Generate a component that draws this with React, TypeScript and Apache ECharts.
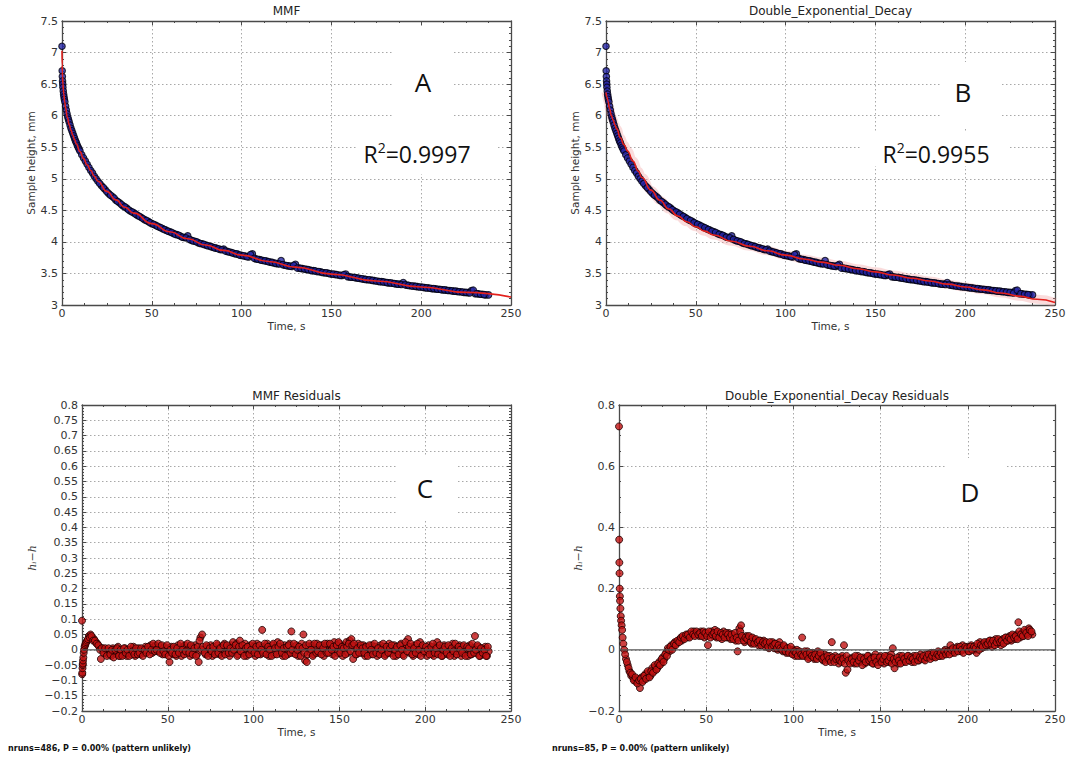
import React, { useEffect, useRef } from "react";
import * as echarts from "echarts";

// ---------------- data ----------------
// measured sample height (mm) vs time (s)
const H_T = [
  0, 0.1, 0.2, 0.3, 0.4, 0.5, 0.7, 0.9, 1.1, 1.3,
  1.6, 2, 2.4, 2.8, 3.2, 3.6, 4, 4.5, 5, 5.5,
  6, 6.5, 7, 7.5, 8, 8.5, 9, 9.5, 10, 11,
  12, 13, 14, 15, 16, 17, 18, 19,
  20, 22, 24, 26, 28, 30, 32, 34, 36, 38,
  40, 42, 44, 46, 48, 50, 52, 54, 56, 58,
  60, 62, 64, 66, 68, 70, 72, 74, 76, 78,
  80, 82, 84, 86, 88, 90, 92, 94, 96, 98,
  100, 102, 104, 106, 108, 110, 112, 114, 116, 118,
  120, 122, 124, 126, 128, 130, 132, 134, 136, 138,
  140, 142, 144, 146, 148, 150, 152, 154, 156, 158,
  160, 162, 164, 166, 168, 170, 172, 174, 176, 178,
  180, 182, 184, 186, 188, 190, 192, 194, 196, 198,
  200, 202, 204, 206, 208, 210, 212, 214, 216, 218,
  220, 222, 224, 226, 228, 230, 232, 234, 236, 237.5,
];
const H_V = [
  7.1, 6.71, 6.62, 6.55, 6.5, 6.45, 6.39, 6.34, 6.3, 6.26,
  6.22, 6.15, 6.09, 6.03, 5.98, 5.94, 5.9, 5.85, 5.8, 5.76,
  5.72, 5.68, 5.64, 5.6, 5.57, 5.53, 5.5, 5.47, 5.44, 5.38,
  5.33, 5.28, 5.23, 5.18, 5.13, 5.09, 5.04, 5.0,
  4.96, 4.89, 4.83, 4.765, 4.72, 4.66, 4.62, 4.57, 4.535, 4.49,
  4.46, 4.42, 4.39, 4.35, 4.325, 4.29, 4.265, 4.235, 4.21, 4.185,
  4.16, 4.135, 4.115, 4.09, 4.07, 4.095, 4.025, 4.01, 3.985, 3.97,
  3.95, 3.935, 3.915, 3.9, 3.88, 3.885, 3.85, 3.835, 3.815, 3.805,
  3.785, 3.775, 3.76, 3.81, 3.73, 3.72, 3.705, 3.695, 3.68, 3.665,
  3.655, 3.705, 3.63, 3.62, 3.61, 3.645, 3.585, 3.575, 3.565, 3.555,
  3.545, 3.53, 3.525, 3.51, 3.505, 3.49, 3.485, 3.475, 3.47, 3.49,
  3.445, 3.44, 3.43, 3.42, 3.41, 3.4, 3.395, 3.385, 3.375, 3.37,
  3.36, 3.35, 3.345, 3.335, 3.33, 3.355, 3.315, 3.305, 3.3, 3.29,
  3.285, 3.275, 3.27, 3.26, 3.255, 3.25, 3.24, 3.235, 3.23, 3.22,
  3.215, 3.21, 3.2, 3.195, 3.23, 3.18, 3.175, 3.17, 3.16, 3.16,
];
// intermediate (odd-second) height samples
const H2_T = [
  21, 23, 25, 27, 29, 31, 33, 35, 37, 39,
  41, 43, 45, 47, 49, 51, 53, 55, 57, 59,
  61, 63, 65, 67, 69, 71, 73, 75, 77, 79,
  81, 83, 85, 87, 89, 91, 93, 95, 97, 99,
  101, 103, 105, 107, 109, 111, 113, 115, 117, 119,
  121, 123, 125, 127, 129, 131, 133, 135, 137, 139,
  141, 143, 145, 147, 149, 151, 153, 155, 157, 159,
  161, 163, 165, 167, 169, 171, 173, 175, 177, 179,
  181, 183, 185, 187, 189, 191, 193, 195, 197, 199,
  201, 203, 205, 207, 209, 211, 213, 215, 217, 219,
  221, 223, 225, 227, 229, 231, 233, 235,
];
const H2_V = [
  4.925, 4.86, 4.795, 4.74, 4.695, 4.64, 4.595, 4.555, 4.51, 4.475,
  4.44, 4.405, 4.37, 4.34, 4.305, 4.28, 4.25, 4.225, 4.195, 4.17,
  4.15, 4.12, 4.105, 4.075, 4.065, 4.04, 4.015, 4.0, 3.975, 3.96,
  3.94, 3.925, 3.905, 3.89, 3.875, 3.855, 3.84, 3.825, 3.81, 3.79,
  3.78, 3.765, 3.8, 3.74, 3.725, 3.71, 3.7, 3.685, 3.675, 3.66,
  3.65, 3.64, 3.625, 3.615, 3.63, 3.585, 3.58, 3.57, 3.56, 3.545,
  3.54, 3.53, 3.515, 3.51, 3.495, 3.49, 3.48, 3.47, 3.48, 3.45,
  3.44, 3.435, 3.425, 3.415, 3.405, 3.4, 3.39, 3.38, 3.37, 3.365,
  3.355, 3.35, 3.34, 3.33, 3.325, 3.32, 3.31, 3.3, 3.295, 3.285,
  3.28, 3.27, 3.265, 3.26, 3.25, 3.245, 3.24, 3.23, 3.225, 3.22,
  3.21, 3.205, 3.2, 3.19, 3.235, 3.18, 3.17, 3.165,
];

// MMF fitted curve
const MMF_T = [0, 0.1, 0.2, 0.3, 0.5, 0.75, 1, 1.5, 2, 3, 4, 5, 6, 7, 8, 10, 12, 14, 16, 18, 20, 25, 30, 35, 40, 50, 60, 70, 80, 90, 100, 115, 130, 150, 175, 200, 225, 250];
const MMF_H = [7.03, 6.8, 6.7, 6.62, 6.5, 6.41, 6.34, 6.22, 6.12, 5.97, 5.86, 5.77, 5.69, 5.62, 5.55, 5.43, 5.32, 5.22, 5.13, 5.04, 4.96, 4.8, 4.665, 4.55, 4.455, 4.29, 4.16, 4.05, 3.95, 3.865, 3.79, 3.69, 3.6, 3.49, 3.38, 3.285, 3.2, 3.125];

// Double exponential decay fitted curve
const DED_T = [0, 0.5, 1, 2, 3, 4, 5, 6, 8, 10, 12, 15, 18, 20, 25, 30, 35, 40, 45, 50, 55, 60, 70, 80, 90, 100, 110, 120, 130, 140, 150, 160, 170, 180, 190, 200, 210, 220, 230, 240, 250];
const DED_H = [6.37, 6.3, 6.24, 6.11, 6.0, 5.93, 5.85, 5.79, 5.65, 5.54, 5.44, 5.28, 5.12, 5.02, 4.82, 4.66, 4.52, 4.41, 4.32, 4.24, 4.17, 4.11, 4.01, 3.93, 3.86, 3.79, 3.73, 3.68, 3.63, 3.575, 3.525, 3.475, 3.425, 3.38, 3.33, 3.285, 3.24, 3.19, 3.14, 3.09, 3.04];

// residual sample times (whole seconds)
const RES_T = [
  0, 0.1, 0.2, 0.3, 0.4, 0.5, 0.6, 0.8, 1, 1.2, 1.5, 1.8, 2.1, 2.5,
  3, 4, 5, 6, 7, 8, 9, 10, 11, 12,
  13, 14, 15, 16, 17, 18, 19, 20, 21, 22,
  23, 24, 25, 26, 27, 28, 29, 30, 31, 32,
  33, 34, 35, 36, 37, 38, 39, 40, 41, 42,
  43, 44, 45, 46, 47, 48, 49, 50, 51, 52,
  53, 54, 55, 56, 57, 58, 59, 60, 61, 62,
  63, 64, 65, 66, 67, 68, 69, 70, 71, 72,
  73, 74, 75, 76, 77, 78, 79, 80, 81, 82,
  83, 84, 85, 86, 87, 88, 89, 90, 91, 92,
  93, 94, 95, 96, 97, 98, 99, 100, 101, 102,
  103, 104, 105, 106, 107, 108, 109, 110, 111, 112,
  113, 114, 115, 116, 117, 118, 119, 120, 121, 122,
  123, 124, 125, 126, 127, 128, 129, 130, 131, 132,
  133, 134, 135, 136, 137, 138, 139, 140, 141, 142,
  143, 144, 145, 146, 147, 148, 149, 150, 151, 152,
  153, 154, 155, 156, 157, 158, 159, 160, 161, 162,
  163, 164, 165, 166, 167, 168, 169, 170, 171, 172,
  173, 174, 175, 176, 177, 178, 179, 180, 181, 182,
  183, 184, 185, 186, 187, 188, 189, 190, 191, 192,
  193, 194, 195, 196, 197, 198, 199, 200, 201, 202,
  203, 204, 205, 206, 207, 208, 209, 210, 211, 212,
  213, 214, 215, 216, 217, 218, 219, 220, 221, 222,
  223, 224, 225, 226, 227, 228, 229, 230, 231, 232,
  233, 234, 235, 236, 237,
];
// MMF residuals
const RES_MMF = [
  0.095, -0.08, -0.075, -0.06, -0.05, -0.045, -0.035, -0.025, -0.01, 0, 0.01, 0.015, 0.02, 0.025,
  0.03, 0.045, 0.05, 0.04, 0.035, 0.025, 0.02, 0.01, -0.03, 0.005,
  -0.01, 0, -0.015, -0.005, -0.02, 0.005, -0.01, -0.015, 0.01, -0.02,
  -0.005, -0.015, 0.005, -0.02, -0.01, 0, -0.015, 0.01, -0.02, -0.005,
  0.005, -0.015, 0, -0.01, 0.01, -0.005, 0.005, 0.015, -0.01, 0.01,
  0.015, -0.005, 0.01, 0, -0.015, 0.01, -0.01, 0.005, -0.04, 0.01,
  -0.015, 0.005, -0.02, 0.015, -0.005, -0.02, 0.01, 0.015, -0.01, 0.005,
  -0.02, 0.01, -0.005, 0.015, -0.015, -0.04, 0.04, 0.05, 0, -0.015,
  0.01, -0.01, 0.015, -0.02, 0.005, -0.01, 0.015, -0.015, 0.01, -0.005,
  0.02, -0.01, 0.005, -0.02, 0.015, 0.025, -0.005, 0.02, -0.015, 0.03,
  0.01, -0.01, 0.02, -0.02, 0.005, 0.015, -0.01, 0.01, -0.02, 0.02,
  0, -0.015, 0.065, 0.01, -0.01, 0.02, -0.02, 0.005, 0.015, -0.015,
  0.01, 0.025, -0.01, 0.005, -0.02, 0.015, 0, -0.015, 0.02, 0.06,
  -0.01, 0.01, 0.015, -0.02, 0.005, 0.02, 0.05, -0.035, -0.04, 0.01,
  -0.01, 0.015, -0.015, 0.005, 0.02, -0.01, 0, 0.015, -0.02, 0.01,
  0.02, -0.005, 0.015, -0.015, 0.025, 0.005, -0.01, 0.02, 0, -0.02,
  0.015, 0.025, -0.01, 0.03, 0.035, -0.03, 0.01, -0.015, 0.02, 0.005,
  -0.01, 0.015, -0.02, 0.01, 0, -0.015, 0.015, -0.005, 0.01, -0.02,
  0.005, 0.015, -0.01, 0.01, -0.015, 0.005, 0.02, -0.01, 0, 0.015,
  -0.02, 0.01, -0.005, 0.02, -0.015, 0.005, 0.015, 0.035, -0.01, 0.01,
  -0.02, 0.015, 0, -0.015, 0.025, 0.01, -0.01, 0.005, -0.02, 0.015,
  0, -0.015, -0.02, 0.01, 0.025, -0.01, 0.005, -0.02, 0.015, 0,
  -0.015, 0.01, -0.01, 0.02, -0.02, 0.005, -0.005, 0.015, -0.02, 0.01,
  -0.01, 0.005, -0.02, 0.015, -0.015, 0.005, 0.045, -0.01, 0.01, -0.02,
  0.005, -0.015, 0.01, -0.02, -0.005,
];
// Double exponential decay residuals
const RES_DED = [
  0.73, 0.36, 0.285, 0.25, 0.2, 0.175, 0.16, 0.135, 0.11, 0.095, 0.08, 0.065, 0.04, 0.02,
  0, -0.03, -0.05, -0.07, -0.085, -0.09, -0.1, -0.105, -0.095, -0.125,
  -0.09, -0.1, -0.08, -0.09, -0.075, -0.085, -0.06, -0.07, -0.055, -0.06,
  -0.04, -0.045, -0.025, -0.03, -0.01, 0.005, -0.005, 0.015, 0.01, 0.025,
  0.02, 0.03, 0.035, 0.03, 0.04, 0.045, 0.04, 0.05, 0.045, 0.055,
  0.06, 0.05, 0.055, 0.045, 0.06, 0.05, 0.04, 0.055, 0.015, 0.05,
  0.06, 0.045, 0.065, 0.04, 0.055, 0.05, 0.035, 0.06, 0.045, 0.04,
  0.055, 0.035, 0.05, 0.045, 0.03, -0.005, 0.07, 0.08, 0.04, 0.025,
  0.045, 0.03, 0.04, 0.02, 0.035, 0.025, 0.03, 0.015, 0.03, 0.02,
  0.03, 0.01, 0.02, 0.005, 0.02, 0.025, 0.005, 0.02, 0, 0.025,
  0.01, -0.005, 0.01, -0.01, 0.005, 0, -0.01, 0, -0.02, 0,
  -0.01, -0.02, 0.04, -0.01, -0.02, -0.005, -0.025, -0.015, -0.01, -0.03,
  -0.015, -0.005, -0.025, -0.02, -0.035, -0.015, -0.025, -0.035, -0.02, 0.025,
  -0.03, -0.02, -0.035, -0.045, -0.025, -0.02, 0.015, -0.075, -0.065, -0.03,
  -0.04, -0.025, -0.045, -0.03, -0.02, -0.04, -0.035, -0.025, -0.045, -0.03,
  -0.02, -0.04, -0.025, -0.045, -0.015, -0.035, -0.04, -0.02, -0.035, -0.045,
  -0.025, -0.02, -0.04, -0.015, 0.005, -0.06, -0.035, -0.045, -0.02, -0.03,
  -0.04, -0.025, -0.035, -0.02, -0.03, -0.04, -0.02, -0.03, -0.025, -0.035,
  -0.015, -0.025, -0.03, -0.015, -0.025, -0.02, -0.01, -0.025, -0.015, -0.02,
  -0.005, -0.02, -0.01, -0.015, 0, -0.01, -0.005, 0.015, -0.01, 0,
  -0.005, 0.01, 0, -0.005, 0.015, 0.005, 0, 0.01, -0.005, 0.015,
  0.005, 0, -0.01, 0.015, 0.025, 0.005, 0.02, 0.01, 0.025, 0.015,
  0.03, 0.01, 0.025, 0.035, 0.02, 0.03, 0.015, 0.035, 0.025, 0.04,
  0.03, 0.045, 0.03, 0.045, 0.035, 0.05, 0.09, 0.04, 0.055, 0.045,
  0.06, 0.05, 0.07, 0.055, 0.05,
];
// residual sample times (half seconds)
const RES2_T = [
  3.5, 4.5, 5.5, 6.5, 7.5, 8.5, 9.5, 10.5, 11.5, 12.5,
  13.5, 14.5, 15.5, 16.5, 17.5, 18.5, 19.5, 20.5, 21.5, 22.5,
  23.5, 24.5, 25.5, 26.5, 27.5, 28.5, 29.5, 30.5, 31.5, 32.5,
  33.5, 34.5, 35.5, 36.5, 37.5, 38.5, 39.5, 40.5, 41.5, 42.5,
  43.5, 44.5, 45.5, 46.5, 47.5, 48.5, 49.5, 50.5, 51.5, 52.5,
  53.5, 54.5, 55.5, 56.5, 57.5, 58.5, 59.5, 60.5, 61.5, 62.5,
  63.5, 64.5, 65.5, 66.5, 67.5, 68.5, 69.5, 70.5, 71.5, 72.5,
  73.5, 74.5, 75.5, 76.5, 77.5, 78.5, 79.5, 80.5, 81.5, 82.5,
  83.5, 84.5, 85.5, 86.5, 87.5, 88.5, 89.5, 90.5, 91.5, 92.5,
  93.5, 94.5, 95.5, 96.5, 97.5, 98.5, 99.5, 100.5, 101.5, 102.5,
  103.5, 104.5, 105.5, 106.5, 107.5, 108.5, 109.5, 110.5, 111.5, 112.5,
  113.5, 114.5, 115.5, 116.5, 117.5, 118.5, 119.5, 120.5, 121.5, 122.5,
  123.5, 124.5, 125.5, 126.5, 127.5, 128.5, 129.5, 130.5, 131.5, 132.5,
  133.5, 134.5, 135.5, 136.5, 137.5, 138.5, 139.5, 140.5, 141.5, 142.5,
  143.5, 144.5, 145.5, 146.5, 147.5, 148.5, 149.5, 150.5, 151.5, 152.5,
  153.5, 154.5, 155.5, 156.5, 157.5, 158.5, 159.5, 160.5, 161.5, 162.5,
  163.5, 164.5, 165.5, 166.5, 167.5, 168.5, 169.5, 170.5, 171.5, 172.5,
  173.5, 174.5, 175.5, 176.5, 177.5, 178.5, 179.5, 180.5, 181.5, 182.5,
  183.5, 184.5, 185.5, 186.5, 187.5, 188.5, 189.5, 190.5, 191.5, 192.5,
  193.5, 194.5, 195.5, 196.5, 197.5, 198.5, 199.5, 200.5, 201.5, 202.5,
  203.5, 204.5, 205.5, 206.5, 207.5, 208.5, 209.5, 210.5, 211.5, 212.5,
  213.5, 214.5, 215.5, 216.5, 217.5, 218.5, 219.5, 220.5, 221.5, 222.5,
  223.5, 224.5, 225.5, 226.5, 227.5, 228.5, 229.5, 230.5, 231.5, 232.5,
  233.5, 234.5, 235.5, 236.5,
];
const RES2_MMF = [
  0.035, 0.04, 0.045, 0.03, 0.03, 0.02, 0.015, 0, 0.005, -0.01,
  0.005, -0.02, 0.005, -0.015, 0, -0.025, 0, 0.005, -0.02, 0,
  -0.02, 0.005, -0.01, 0, -0.02, 0.01, -0.005, -0.015, 0.005, -0.015,
  -0.01, 0.005, -0.02, 0, -0.01, 0.01, -0.015, 0, 0.02, -0.005,
  0, 0.02, -0.01, 0.015, -0.005, -0.015, 0.015, -0.02, 0, -0.01,
  0.01, -0.015, 0.005, -0.01, 0.02, 0, -0.015, -0.005, 0.02, -0.01,
  0.015, -0.015, 0.005, -0.02, 0.01, 0.03, 0, 0.01, -0.01, 0.015,
  -0.02, 0.005, -0.005, 0.01, -0.015, 0.02, -0.01, 0.005, -0.02, 0.015,
  -0.015, 0.015, -0.01, 0.005, -0.01, 0, 0.015, -0.02, 0.01, -0.005,
  0.015, -0.02, 0.005, 0.01, -0.015, 0, 0.02, -0.01, 0.01, -0.015,
  0.015, 0, -0.01, 0.02, -0.015, 0.01, 0, -0.02, 0.02, 0.005,
  -0.015, 0.01, 0.02, -0.01, 0.005, -0.02, 0.01, 0.015, -0.01, 0,
  0.02, -0.015, 0, 0.01, -0.02, 0.005, -0.01, 0.015, -0.015, 0.02,
  0, -0.02, 0.02, -0.01, -0.005, 0.015, -0.015, 0.005, 0.02, -0.01,
  -0.01, 0.02, 0, 0.01, -0.02, 0.015, 0.025, -0.01, 0.01, 0.005,
  -0.015, 0.01, 0.02, -0.005, 0.015, 0.02, -0.015, 0.005, -0.01, 0.015,
  0.005, -0.01, 0.01, -0.02, 0.015, 0, -0.015, 0.02, -0.01, 0.005,
  -0.015, 0, 0.02, -0.02, 0.01, -0.01, 0.005, 0.015, -0.02, 0,
  0.01, -0.015, 0.015, 0, -0.02, 0.025, -0.005, 0.01, 0.02, -0.015,
  0.005, -0.01, 0.02, 0, -0.02, 0.015, -0.005, 0.01, 0, -0.015,
  0.01, 0.02, -0.01, 0.005, -0.015, 0.015, -0.02, 0, 0.01, -0.01,
  0.015, -0.02, 0.005, -0.005, 0.02, -0.015, 0.01, 0, -0.01, 0.015,
  -0.02, 0.01, 0.005, -0.015, 0.02, -0.01, 0, 0.015, -0.02, 0.005,
  -0.01, 0, -0.02, 0.01,
];
const RES2_DED = [
  -0.015, -0.04, -0.06, -0.075, -0.08, -0.1, -0.09, -0.11, -0.1, -0.095,
  -0.105, -0.085, -0.095, -0.07, -0.09, -0.07, -0.075, -0.05, -0.065, -0.045,
  -0.05, -0.03, -0.04, -0.015, -0.02, 0, 0.01, 0, 0.02, 0.015,
  0.03, 0.025, 0.04, 0.045, 0.035, 0.05, 0.05, 0.04, 0.06, 0.05,
  0.045, 0.06, 0.05, 0.055, 0.045, 0.06, 0.055, 0.045, 0.06, 0.04,
  0.05, 0.055, 0.045, 0.06, 0.04, 0.055, 0.05, 0.04, 0.055, 0.05,
  0.04, 0.05, 0.035, 0.055, 0.04, 0.03, 0.06, 0.045, 0.03, 0.04,
  0.035, 0.045, 0.025, 0.04, 0.02, 0.035, 0.025, 0.03, 0.015, 0.025,
  0.02, 0.025, 0.01, 0.025, 0.01, 0.015, 0.02, 0.005, 0.015, 0.005,
  0, 0.015, -0.005, 0.005, -0.01, 0.01, -0.015, -0.005, -0.01, -0.02,
  -0.005, -0.015, -0.02, -0.005, -0.015, -0.03, -0.01, -0.02, -0.025, -0.015,
  -0.03, -0.02, -0.01, -0.03, -0.025, -0.04, -0.02, -0.03, -0.04, -0.025,
  -0.04, -0.03, -0.025, -0.035, -0.04, -0.03, -0.045, -0.02, -0.035, -0.045,
  -0.03, -0.04, -0.02, -0.045, -0.035, -0.025, -0.05, -0.03, -0.04, -0.02,
  -0.035, -0.03, -0.045, -0.025, -0.04, -0.05, -0.025, -0.04, -0.03, -0.02,
  -0.04, -0.035, -0.025, -0.045, -0.03, -0.04, -0.025, -0.035, -0.045, -0.02,
  -0.03, -0.04, -0.02, -0.035, -0.025, -0.03, -0.04, -0.02, -0.035, -0.025,
  -0.03, -0.02, -0.035, -0.025, -0.015, -0.03, -0.02, -0.01, -0.025, -0.015,
  -0.02, -0.01, -0.02, -0.005, -0.015, -0.005, -0.015, 0, 0.005, -0.01,
  0.005, -0.005, 0.01, 0, -0.01, 0.01, 0.005, -0.005, 0.01, 0,
  0.01, 0.005, 0.02, 0, 0.015, 0.01, 0.025, 0.015, 0.02, 0.03,
  0.02, 0.03, 0.015, 0.025, 0.035, 0.025, 0.03, 0.02, 0.04, 0.03,
  0.04, 0.035, 0.05, 0.04, 0.045, 0.035, 0.06, 0.05, 0.045, 0.065,
  0.055, 0.045, 0.065, 0.06,
];
const ZERO_C_END = 238;
const ZERO_D_END = 250;

// ---------------- texts ----------------
const TITLES = ["MMF", "Double_Exponential_Decay", "MMF Residuals", "Double_Exponential_Decay Residuals"];
const X_NAME = "Time, s";
const Y_NAME_H = "Sample height, mm";
const Y_NAME_R = "h\u1D62\u2212h";
const LETTERS = ["A", "B", "C", "D"];
const R2_VALUES = ["=0.9997", "=0.9955"];
const FOOTERS = ["nruns=486, P = 0.00% (pattern unlikely)", "nruns=85, P = 0.00% (pattern unlikely)"];

// ---------------- layout / style ----------------
const GRIDS = [
  { left: 62, top: 21, width: 449, height: 284 },
  { left: 606, top: 21, width: 449, height: 284 },
  { left: 82, top: 405, width: 429, height: 306 },
  { left: 619, top: 405, width: 436, height: 306 },
];
const FONT = "'DejaVu Sans', sans-serif";
const ANNOT_FONT = "'Open Sans', 'Liberation Sans', sans-serif";
const AX = "#4a4a4a";
const TXT = "#333";

const fmt = (v: number) => String(Math.round(v * 1000) / 1000).replace("-", "\u2212");

function xAxesFor(gi: number) {
  const base: any = {
    type: "value", gridIndex: gi, min: 0, max: 250, interval: 50,
    axisLine: { show: true, onZero: false, lineStyle: { color: AX, width: 1.3 } },
    axisTick: { show: true, inside: true, length: 4, lineStyle: { color: AX, width: 1 } },
    minorTick: { show: true, splitNumber: 4, length: 2, lineStyle: { color: AX, width: 1 } },
  };
  return [
    {
      ...base, position: "bottom",
      name: X_NAME, nameLocation: "middle", nameGap: 15,
      nameTextStyle: { fontFamily: FONT, fontSize: 10.5, color: TXT },
      axisLabel: { fontFamily: FONT, fontSize: 11, color: TXT, margin: 3, formatter: fmt },
      splitLine: { show: true, lineStyle: { type: [1.5, 2.5], color: "#a8a8a8", width: 1 } },
    },
    { ...base, position: "top", axisLabel: { show: false }, splitLine: { show: false } },
  ];
}

function yAxesFor(gi: number, min: number, max: number, interval: number, minorSplit: number, name: string, nameGap: number, italic: boolean) {
  const base: any = {
    type: "value", gridIndex: gi, min, max, interval,
    axisLine: { show: true, onZero: false, lineStyle: { color: AX, width: 1.3 } },
    axisTick: { show: true, inside: true, length: 4, lineStyle: { color: AX, width: 1 } },
    minorTick: { show: true, splitNumber: minorSplit, length: 2, lineStyle: { color: AX, width: 1 } },
  };
  return [
    {
      ...base, position: "left",
      name, nameLocation: "middle", nameGap,
      nameTextStyle: italic
        ? { fontFamily: "'DejaVu Serif', serif", fontStyle: "italic", fontSize: 11, color: "#444" }
        : { fontFamily: FONT, fontSize: 10.5, color: TXT },
      axisLabel: { fontFamily: FONT, fontSize: 11, color: TXT, margin: 4, formatter: fmt },
      splitLine: { show: true, lineStyle: { type: [1.5, 2.5], color: "#a8a8a8", width: 1 } },
    },
    { ...base, position: "right", axisLabel: { show: false }, splitLine: { show: false } },
  ];
}

const pairs = (xs: number[], ys: number[]) => xs.map((x, i) => [x, ys[i]]);

const BLUE_PT = { color: "#2626a6", borderColor: "#000010", borderWidth: 1.1 };
const RED_PT = { color: "#c01212", borderColor: "#1e0000", borderWidth: 1 };

function buildOption(): any {
  const heights = [...pairs(H_T, H_V), ...pairs(H2_T, H2_V)];
  const resMMF = [...pairs(RES_T, RES_MMF), ...pairs(RES2_T, RES2_MMF)];
  const resDED = [...pairs(RES_T, RES_DED), ...pairs(RES2_T, RES2_DED)];
  const xAxis = [...xAxesFor(0), ...xAxesFor(1), ...xAxesFor(2), ...xAxesFor(3)];
  const yAxis = [
    ...yAxesFor(0, 3, 7.5, 0.5, 5, Y_NAME_H, 23, false),
    ...yAxesFor(1, 3, 7.5, 0.5, 5, Y_NAME_H, 23, false),
    ...yAxesFor(2, -0.2, 0.8, 0.05, 5, Y_NAME_R, 44, true),
    ...yAxesFor(3, -0.2, 0.8, 0.2, 4, Y_NAME_R, 35, true),
  ];

  const series: any[] = [
    // A
    { type: "scatter", xAxisIndex: 0, yAxisIndex: 0, data: heights, symbolSize: 6.5, itemStyle: BLUE_PT, z: 3 },
    { type: "line", xAxisIndex: 0, yAxisIndex: 0, data: pairs(MMF_T, MMF_H), showSymbol: false, symbol: "none", smooth: true, smoothMonotone: "x", lineStyle: { color: "#e3201c", width: 1.6 }, z: 5 },
    // B
    { type: "line", xAxisIndex: 2, yAxisIndex: 2, data: pairs(DED_T, DED_H), showSymbol: false, symbol: "none", smooth: true, smoothMonotone: "x", lineStyle: { color: "rgba(240,140,140,0.3)", width: 9 }, z: 2 },
    { type: "scatter", xAxisIndex: 2, yAxisIndex: 2, data: heights, symbolSize: 6.5, itemStyle: BLUE_PT, z: 3 },
    { type: "line", xAxisIndex: 2, yAxisIndex: 2, data: pairs(DED_T, DED_H), showSymbol: false, symbol: "none", smooth: true, smoothMonotone: "x", lineStyle: { color: "#e3201c", width: 1.6 }, z: 5 },
    // C
    { type: "scatter", xAxisIndex: 4, yAxisIndex: 4, data: resMMF, symbolSize: 7, itemStyle: RED_PT, z: 3 },
    { type: "line", xAxisIndex: 4, yAxisIndex: 4, data: [[0, 0], [ZERO_C_END, 0]], showSymbol: false, symbol: "none", lineStyle: { color: "#555", width: 1.3 }, z: 4 },
    // D
    { type: "scatter", xAxisIndex: 6, yAxisIndex: 6, data: resDED, symbolSize: 7, itemStyle: RED_PT, z: 3 },
    { type: "line", xAxisIndex: 6, yAxisIndex: 6, data: [[0, 0], [ZERO_D_END, 0]], showSymbol: false, symbol: "none", lineStyle: { color: "#555", width: 1.3 }, z: 4 },
  ];

  const textEl = (x: number, y: number, text: string, size: number, family: string, fill: string, weight = "normal", align = "center") => ({
    type: "text", x, y, z: 20,
    style: { text, fontSize: size, fontFamily: family, fontWeight: weight, fill, align, verticalAlign: "middle", textAlign: align, textVerticalAlign: "middle" },
  });
  const r2El = (x: number, y: number, value: string) => ({
    type: "text", x, y, z: 20,
    style: {
      text: `{b|R}{s|2}{b|${value}}`,
      align: "center", verticalAlign: "middle", textAlign: "center", textVerticalAlign: "middle",
      fill: "#111", fontFamily: ANNOT_FONT, fontSize: 23,
      rich: {
        b: { fontFamily: ANNOT_FONT, fontSize: 23, fill: "#111", color: "#111", lineHeight: 30, verticalAlign: "bottom" },
        s: { fontFamily: ANNOT_FONT, fontSize: 14, fill: "#111", color: "#111", lineHeight: 30, verticalAlign: "top", padding: [5, 0, 0, 0] },
      },
    },
  });
  const whiteRect = (x: number, y: number, w: number, h: number) => ({
    type: "rect", z: 10, shape: { x, y, width: w, height: h }, style: { fill: "#ffffff" },
  });

  const graphic: any[] = [
    // titles
    ...GRIDS.map((g, i) => textEl(g.left + g.width / 2, i < 2 ? 11 : 396, TITLES[i], 12, FONT, "#222")),
    // annotation boxes
    whiteRect(394, 26, 59, 148),
    whiteRect(358, 133, 140, 33),
    whiteRect(941, 62, 59, 66),
    whiteRect(862, 133, 148, 33),
    whiteRect(397, 455, 59, 65),
    whiteRect(946, 458, 59, 67),
    textEl(423, 82, LETTERS[0], 26, ANNOT_FONT, "#111"),
    textEl(963, 92, LETTERS[1], 26, ANNOT_FONT, "#111"),
    textEl(425, 488, LETTERS[2], 26, ANNOT_FONT, "#111"),
    textEl(970, 492, LETTERS[3], 26, ANNOT_FONT, "#111"),
    r2El(417, 150, R2_VALUES[0]),
    r2El(936, 150, R2_VALUES[1]),
    // footers
    textEl(8, 748, FOOTERS[0], 8, FONT, "#111", "bold", "left"),
    textEl(552, 748, FOOTERS[1], 8, FONT, "#111", "bold", "left"),
  ];

  return {
    animation: false,
    backgroundColor: "#ffffff",
    grid: GRIDS.map((g) => ({ ...g, containLabel: false })),
    xAxis,
    yAxis,
    series,
    graphic,
  };
}

export default function App() {
  const ref = useRef<HTMLDivElement>(null);
  useEffect(() => {
    if (!ref.current) return;
    const chart = echarts.init(ref.current, undefined, { renderer: "svg" });
    chart.setOption(buildOption());
    return () => chart.dispose();
  }, []);
  return (
    <div
      ref={ref}
      style={{ position: "absolute", left: 0, top: 0, width: 1073, height: 765, background: "#fff" }}
    />
  );
}
